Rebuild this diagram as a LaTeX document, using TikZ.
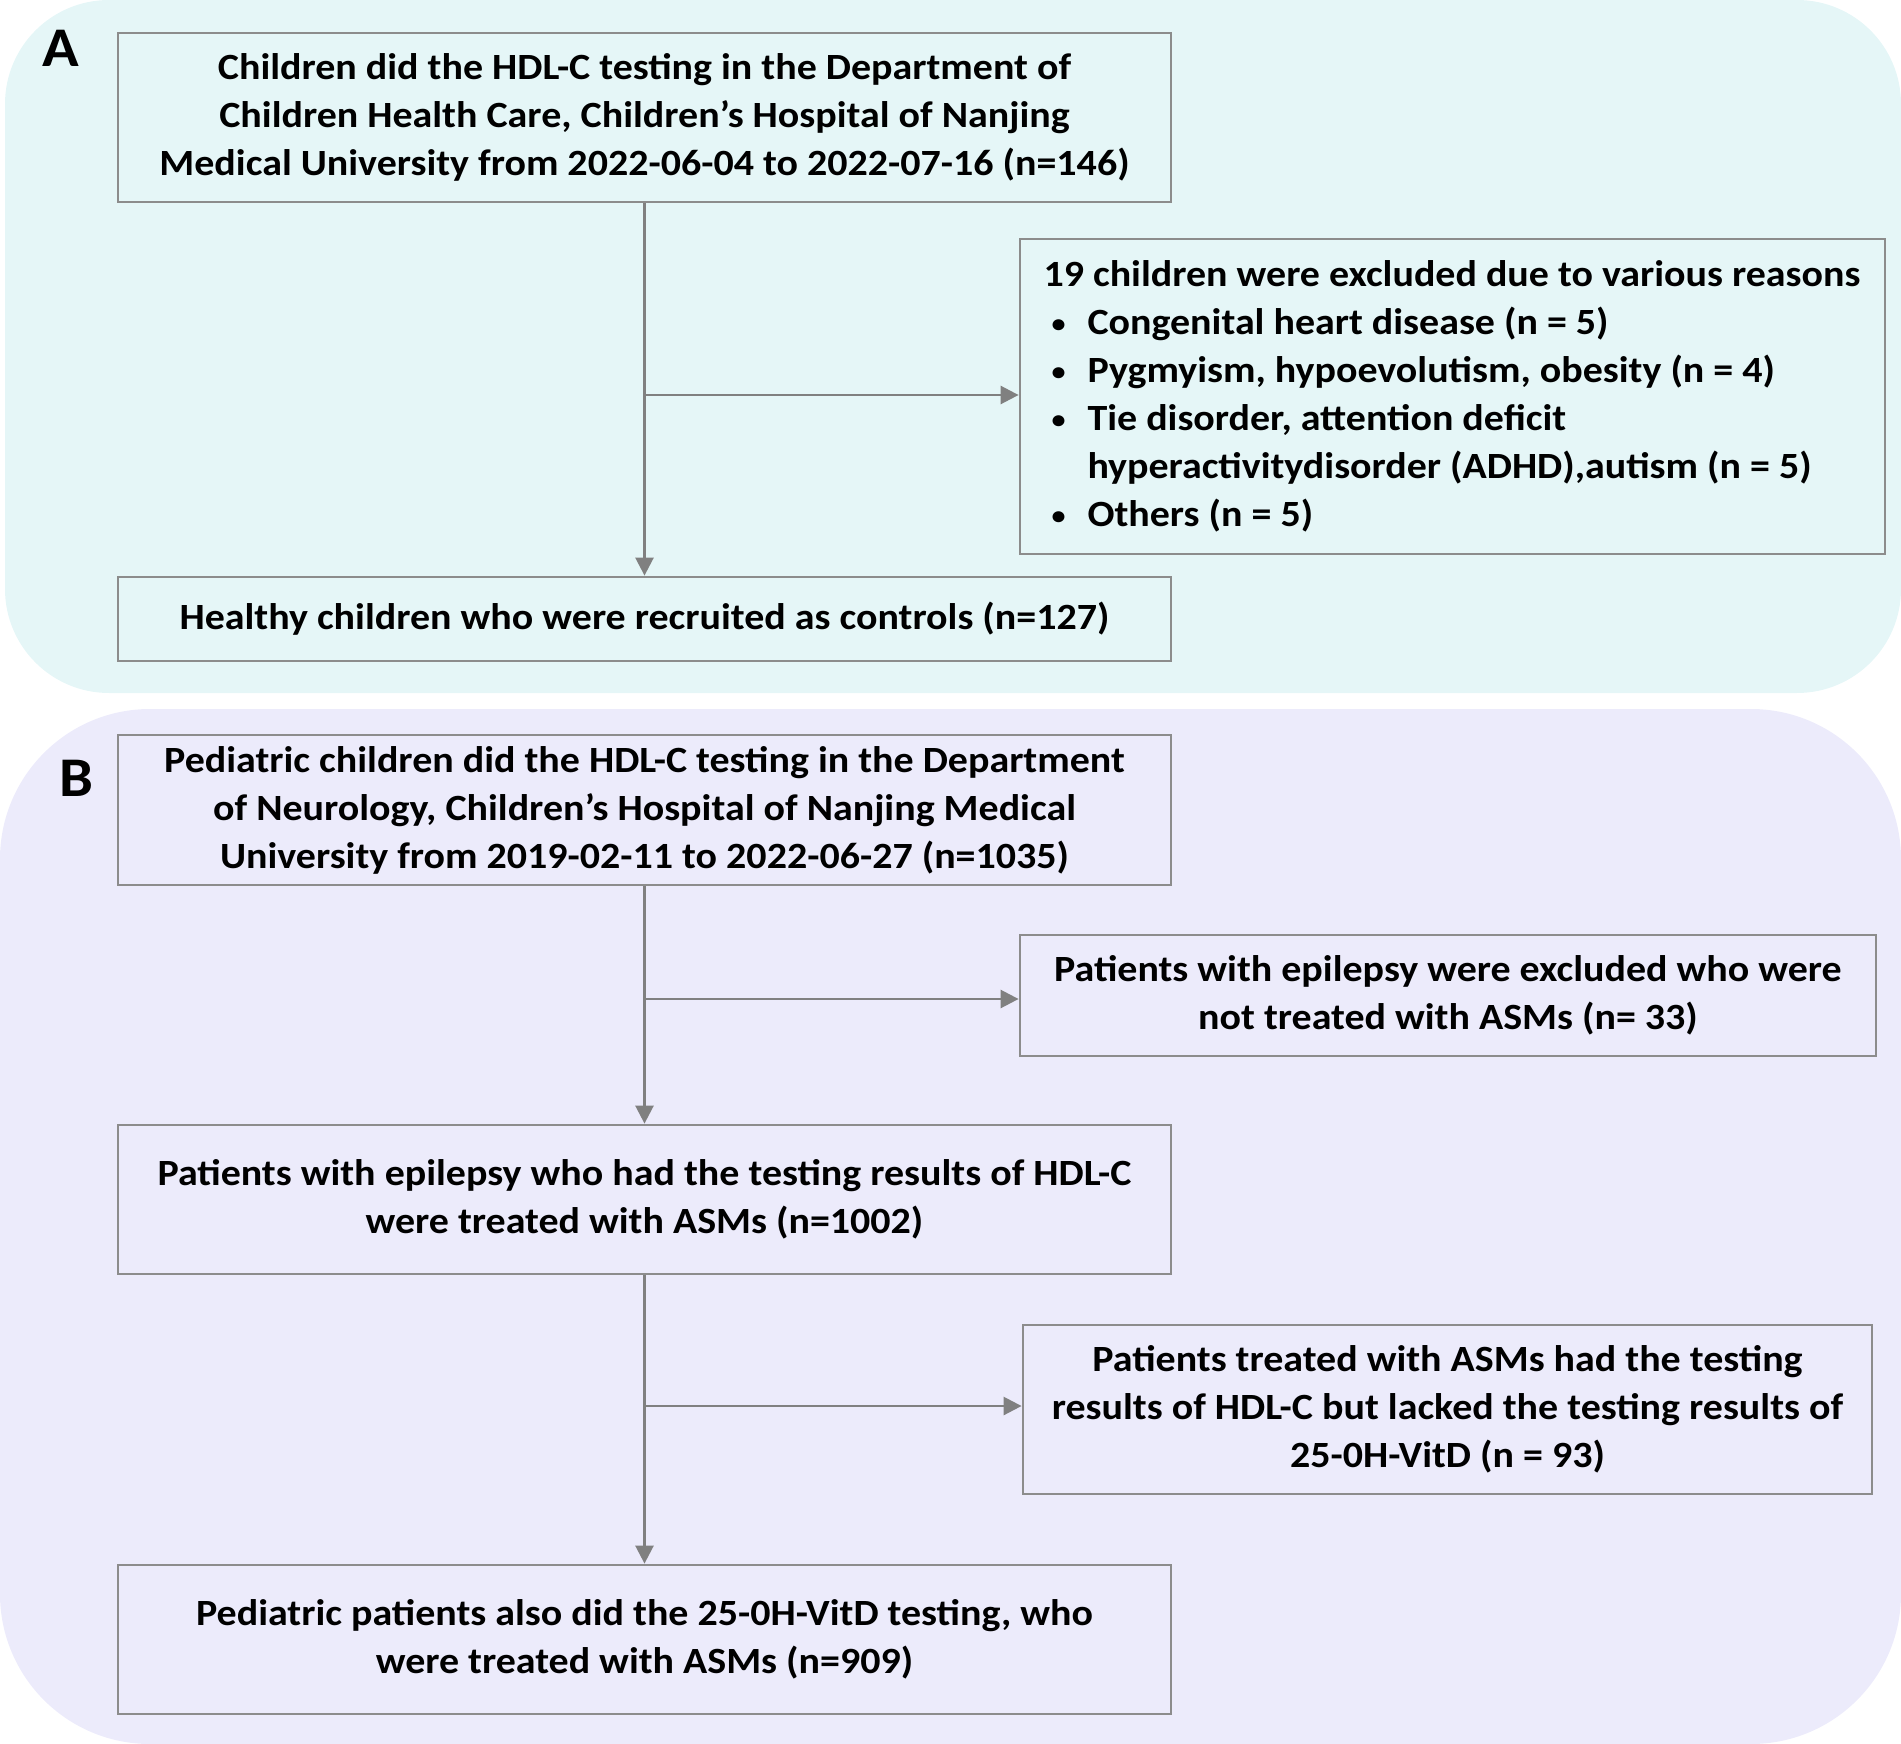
\documentclass[tikz,border=0pt]{standalone}
\usepackage{fontspec}
\setmainfont{Carlito}[FakeStretch=1.08]
\usetikzlibrary{arrows.meta}
\definecolor{panelA}{RGB}{229,246,247}
\definecolor{panelB}{RGB}{236,235,251}
\definecolor{edgegray}{RGB}{140,140,140}
\definecolor{arrgray}{RGB}{128,128,128}
\newcommand{\mybul}{\makebox[22pt][l]{\hspace{4pt}\raisebox{0.12ex}{\fontsize{13}{13}\selectfont\textbullet}}}
\tikzset{
  box/.style={draw=edgegray, line width=1.4pt, inner sep=0pt, align=center,
    font=\fontsize{18.5}{24}\selectfont\bfseries},
  conn/.style={draw=arrgray, line width=1.3pt},
  arr/.style={conn, -{Triangle[length=9pt,width=9pt]}},
  plabel/.style={font=\fontsize{28}{30}\selectfont\bfseries, inner sep=0pt}
}
\begin{document}
\begin{tikzpicture}[x=0.5pt,y=-0.5pt]
\useasboundingbox (0,0) rectangle (1901,1744);
% panels
\fill[panelA, rounded corners=52pt] (5,0) rectangle (1901,693);
\fill[panelB, rounded corners=75pt] (0,709) rectangle (1901,1744);
\node[plabel] (la) at (61,48) {A};
\node[plabel] (lb) at (76,778) {B};
% panel A
\node[box, minimum width=526.5pt, minimum height=84.5pt] (a1) at (644.5,117.5)
 {Children did the HDL-C testing in the Department of\\
  Children Health Care, Children’s Hospital of Nanjing\\
  Medical University from 2022-06-04 to 2022-07-16 (n=146)};
\node[box, minimum width=432.5pt, minimum height=157.5pt, text width=409pt, align=flush left] (a2) at (1452.5,396.5)
 {19 children were excluded due to various reasons\\
  \mybul Congenital heart disease (n = 5)\\
  \mybul Pygmyism, hypoevolutism, obesity (n = 4)\\
  \mybul Tie disorder, attention deficit\\
  \hspace*{22pt}hyperactivitydisorder (ADHD),autism (n = 5)\\
  \mybul Others (n = 5)};
\node[box, minimum width=526.5pt, minimum height=42pt] (a3) at (644.5,619)
 {Healthy children who were recruited as controls (n=127)};
\coordinate (ja) at (645,395);
\draw[arr] (a1.south) -- (a3.north);
\draw[arr] (ja) -- (ja -| a2.west);
% panel B
\node[box, minimum width=526.5pt, minimum height=75pt] (b1) at (644.5,810)
 {Pediatric children did the HDL-C testing in the Department\\
  of Neurology, Children’s Hospital of Nanjing Medical\\
  University from 2019-02-11 to 2022-06-27 (n=1035)};
\node[box, minimum width=428pt, minimum height=60.5pt] (b2) at (1448,995.5)
 {Patients with epilepsy were excluded who were\\
  not treated with ASMs (n= 33)};
\node[box, minimum width=526.5pt, minimum height=74.5pt] (b3) at (644.5,1199.5)
 {Patients with epilepsy who had the testing results of HDL-C\\
  were treated with ASMs (n=1002)};
\node[box, minimum width=424.5pt, minimum height=84.5pt] (b4) at (1447.5,1409.5)
 {Patients treated with ASMs had the testing\\
  results of HDL-C but lacked the testing results of\\
  25-0H-VitD (n = 93)};
\node[box, minimum width=526.5pt, minimum height=74.5pt] (b5) at (644.5,1639.5)
 {Pediatric patients also did the 25-0H-VitD testing, who\\
  were treated with ASMs (n=909)};
\coordinate (jb) at (645,999);
\coordinate (jc) at (645,1406);
\draw[arr] (b1.south) -- (b3.north);
\draw[arr] (jb) -- (jb -| b2.west);
\draw[arr] (b3.south) -- (b5.north);
\draw[arr] (jc) -- (jc -| b4.west);
\end{tikzpicture}
\end{document}
